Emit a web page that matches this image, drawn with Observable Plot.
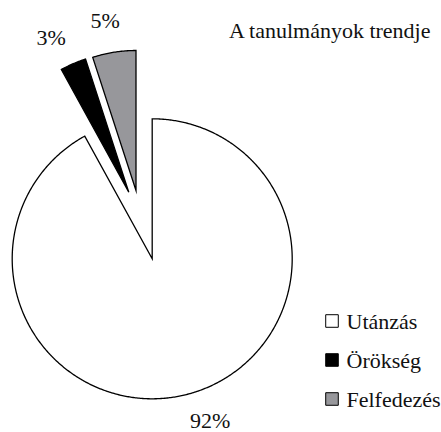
<!DOCTYPE html>
<html>
<head>
<meta charset="utf-8">
<script src="https://cdn.jsdelivr.net/npm/d3@7"></script>
<script src="https://cdn.jsdelivr.net/npm/@observablehq/plot@0.6"></script>
<style>
  html, body { margin: 0; padding: 0; background: #ffffff; overflow: hidden; }
  #warm { position: absolute; left: 0; top: 0; visibility: hidden; font: 22px "Liberation Serif"; }
</style>
</head>
<body>
<span id="warm" aria-hidden="true">Aá</span>
<div id="chart"></div>
<script>
// ---- data ----
const chartTitle = "A tanulmányok trendje";
const categories = ["Utánzás", "Örökség", "Felfedezés"];
const shares = [92, 3, 5];
const shareLabels = ["92%", "3%", "5%"];

// ---- style / layout ----
const fills = ["#ffffff", "#000000", "#97979b"];
const CX = 151.7, CY = 258.3, R = 140;          // pie placement in pixels
const explodePx = [[0, 0], [-23.4, -66.6], [-16.2, -68.3]]; // pulled-out offsets
const labelRadius = 1.232;                      // in pie radii, from slice tip
const labelNudgeDeg = [-5.2, -3.4, -1.3];
const FS = 22;
const FF = "Liberation Serif";
const FF_LIST = "'Liberation Serif', 'Times New Roman', serif";

const rows = categories.map((c, i) => ({cat: c, value: shares[i], label: shareLabels[i], fill: fills[i],
  ox: explodePx[i][0] / R, oy: -explodePx[i][1] / R}));
const arcs = d3.pie().sort(null).value(d => d.value)(rows);

const slicePts = [];
const labelPts = [];
arcs.forEach((a, i) => {
  const d = a.data;
  const n = Math.max(2, Math.ceil((a.endAngle - a.startAngle) / (Math.PI / 360)));
  slicePts.push({cat: d.cat, fill: d.fill, x: d.ox, y: d.oy});
  for (let k = 0; k <= n; k++) {
    const t = a.startAngle + (a.endAngle - a.startAngle) * k / n;
    slicePts.push({cat: d.cat, fill: d.fill, x: d.ox + Math.sin(t), y: d.oy + Math.cos(t)});
  }
  const mid = (a.startAngle + a.endAngle) / 2 + labelNudgeDeg[i] * Math.PI / 180;
  labelPts.push({text: d.label, x: d.ox + labelRadius * Math.sin(mid), y: d.oy + labelRadius * Math.cos(mid)});
});

const legendMarks = categories.flatMap((c, i) => [
  Plot.dot([c], {frameAnchor: "top-left", dx: 331.5, dy: 320.5 + 39 * i, symbol: "square", r: 7.1,
    fill: fills[i], stroke: "#000", strokeWidth: 1}),
  Plot.text([c], {frameAnchor: "top-left", dx: 346, dy: 321 + 39 * i,
    textAnchor: "start", lineAnchor: "middle", fontSize: FS, fontFamily: FF, fill: "#111"})
]);

const chart = Plot.plot({
  width: 441,
  height: 432,
  margin: 0,
  x: {domain: [-1, 1], range: [CX - R, CX + R], axis: null},
  y: {domain: [-1, 1], range: [CY + R, CY - R], axis: null},
  color: {type: "identity"},
  style: {fontFamily: FF, background: "#ffffff", color: "#111", display: "block"},
  marks: [
    Plot.line(slicePts, {x: "x", y: "y", z: "cat", fill: "fill", stroke: "#000", strokeWidth: 1.3,
      curve: "linear-closed", strokeLinejoin: "miter", strokeMiterlimit: 10}),
    Plot.text(labelPts, {x: "x", y: "y", text: "text", fontSize: FS, fontFamily: FF, textAnchor: "middle", lineAnchor: "middle", fill: "#111"}),
    Plot.text([chartTitle], {frameAnchor: "top-right", dx: -11, dy: 30, textAnchor: "end",
      lineAnchor: "middle", fontSize: FS, fontFamily: FF, fill: "#111"}),
    ...legendMarks
  ]
});
chart.setAttribute("font-family", FF_LIST);
chart.querySelectorAll("text").forEach(t => { t.style.fontFamily = FF_LIST; });
document.getElementById("chart").appendChild(chart);
</script>
</body>
</html>
